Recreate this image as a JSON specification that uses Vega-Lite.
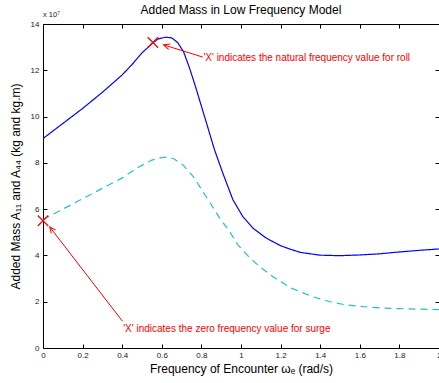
{
  "$schema": "https://vega.github.io/schema/vega-lite/v6.json",
  "width": 396,
  "height": 324,
  "autosize": {"type": "none"},
  "padding": {"left": 43, "top": 24, "right": 0, "bottom": 35},
  "background": "white",
  "config": {
    "view": {"stroke": null},
    "font": "Liberation Sans",
    "axis": {"grid": false, "domainColor": "black", "tickColor": "black", "labelColor": "#222", "labelFont": "Liberation Sans", "labelFontSize": 8, "titleFont": "Liberation Sans", "titleFontWeight": "normal", "titleColor": "black", "titleFontSize": 12}
  },
  "title": {"text": "Added Mass in Low Frequency Model", "fontSize": 12, "fontWeight": "normal", "font": "Liberation Sans", "color": "black", "offset": -6},
  "datasets": {
    "curves": [
      {"s": "A44", "f": 0, "m": 9.05}, {"s": "A44", "f": 0.1, "m": 9.7}, {"s": "A44", "f": 0.2, "m": 10.35}, {"s": "A44", "f": 0.3, "m": 11.05}, {"s": "A44", "f": 0.4, "m": 11.8}, {"s": "A44", "f": 0.45, "m": 12.25}, {"s": "A44", "f": 0.5, "m": 12.75}, {"s": "A44", "f": 0.55, "m": 13.15}, {"s": "A44", "f": 0.58, "m": 13.35}, {"s": "A44", "f": 0.62, "m": 13.43}, {"s": "A44", "f": 0.65, "m": 13.4}, {"s": "A44", "f": 0.68, "m": 13.2}, {"s": "A44", "f": 0.71, "m": 12.8}, {"s": "A44", "f": 0.74, "m": 12.1}, {"s": "A44", "f": 0.77, "m": 11.3}, {"s": "A44", "f": 0.8, "m": 10.45}, {"s": "A44", "f": 0.83, "m": 9.6}, {"s": "A44", "f": 0.866, "m": 8.57}, {"s": "A44", "f": 0.908, "m": 7.56}, {"s": "A44", "f": 0.959, "m": 6.41}, {"s": "A44", "f": 1.009, "m": 5.68}, {"s": "A44", "f": 1.06, "m": 5.18}, {"s": "A44", "f": 1.127, "m": 4.75}, {"s": "A44", "f": 1.2, "m": 4.42}, {"s": "A44", "f": 1.245, "m": 4.28}, {"s": "A44", "f": 1.3, "m": 4.13}, {"s": "A44", "f": 1.4, "m": 4.01}, {"s": "A44", "f": 1.5, "m": 3.99}, {"s": "A44", "f": 1.6, "m": 4.02}, {"s": "A44", "f": 1.7, "m": 4.07}, {"s": "A44", "f": 1.8, "m": 4.15}, {"s": "A44", "f": 1.9, "m": 4.22}, {"s": "A44", "f": 2.0, "m": 4.28},
      {"s": "A11", "f": 0, "m": 5.55}, {"s": "A11", "f": 0.1, "m": 6.0}, {"s": "A11", "f": 0.2, "m": 6.45}, {"s": "A11", "f": 0.3, "m": 6.9}, {"s": "A11", "f": 0.4, "m": 7.35}, {"s": "A11", "f": 0.48, "m": 7.8}, {"s": "A11", "f": 0.55, "m": 8.12}, {"s": "A11", "f": 0.6, "m": 8.23}, {"s": "A11", "f": 0.63, "m": 8.25}, {"s": "A11", "f": 0.66, "m": 8.18}, {"s": "A11", "f": 0.706, "m": 7.92}, {"s": "A11", "f": 0.765, "m": 7.34}, {"s": "A11", "f": 0.807, "m": 6.76}, {"s": "A11", "f": 0.85, "m": 6.19}, {"s": "A11", "f": 0.892, "m": 5.62}, {"s": "A11", "f": 0.942, "m": 5.04}, {"s": "A11", "f": 0.984, "m": 4.46}, {"s": "A11", "f": 1.034, "m": 3.99}, {"s": "A11", "f": 1.093, "m": 3.52}, {"s": "A11", "f": 1.16, "m": 3.09}, {"s": "A11", "f": 1.25, "m": 2.6}, {"s": "A11", "f": 1.36, "m": 2.22}, {"s": "A11", "f": 1.45, "m": 2.0}, {"s": "A11", "f": 1.53, "m": 1.86}, {"s": "A11", "f": 1.6, "m": 1.8}, {"s": "A11", "f": 1.7, "m": 1.73}, {"s": "A11", "f": 1.8, "m": 1.7}, {"s": "A11", "f": 1.9, "m": 1.68}, {"s": "A11", "f": 2.0, "m": 1.66}
    ],
    "marks": [{"f": 0.555, "m": 13.2}, {"f": 0, "m": 5.5}],
    "arrows": [
      {"id": "roll", "f": 0.807, "m": 12.57, "f2": 0.609, "m2": 13.1},
      {"id": "surge", "f": 0.402, "m": 1.15, "f2": 0.034, "m2": 5.23}
    ],
    "notes": [
      {"f": 0.81, "m": 12.53, "t": "'X' indicates the natural frequency value for roll"},
      {"f": 0.405, "m": 0.82, "t": "'X' indicates the zero frequency value for surge"}
    ],
    "exp": [{"f": 0, "m": 14.4, "t": "x 10⁷"}]
  },
  "resolve": {"axis": {"x": "independent", "y": "independent"}},
  "layer": [
    {
      "data": {"name": "curves"},
      "mark": {"type": "line", "strokeWidth": 1.2, "clip": true},
      "encoding": {
        "x": {"field": "f", "type": "quantitative", "scale": {"domain": [0, 2], "nice": false},
          "axis": {"orient": "bottom", "values": [0, 0.2, 0.4, 0.6, 0.8, 1, 1.2, 1.4, 1.6, 1.8, 2], "format": "~g", "tickSize": -4, "labelPadding": 7, "labelOverlap": false, "labelFlush": false, "labelBound": false, "title": "Frequency of Encounter ωₑ (rad/s)", "titlePadding": 4}},
        "y": {"field": "m", "type": "quantitative", "scale": {"domain": [0, 14], "nice": false},
          "axis": {"orient": "left", "values": [0, 2, 4, 6, 8, 10, 12, 14], "tickSize": -4, "labelPadding": 8, "labelOverlap": false, "title": "Added Mass A₁₁ and A₄₄ (kg and kg.m)", "titlePadding": 8}},
        "color": {"field": "s", "type": "nominal", "scale": {"domain": ["A44", "A11"], "range": ["#0000ff", "#1fc4c4"]}, "legend": null},
        "strokeDash": {"field": "s", "type": "nominal", "scale": {"domain": ["A44", "A11"], "range": [[1, 0], [7, 5]]}, "legend": null}
      }
    },
    {
      "data": {"name": "marks"},
      "mark": {"type": "point", "shape": "M-1,-1L1,1M1,-1L-1,1", "filled": false, "size": 110, "stroke": "#ff0000", "strokeWidth": 1.2, "opacity": 1},
      "encoding": {
        "x": {"field": "f", "type": "quantitative", "axis": {"orient": "top", "values": [0, 0.2, 0.4, 0.6, 0.8, 1, 1.2, 1.4, 1.6, 1.8, 2], "labels": false, "tickSize": -4, "title": null}},
        "y": {"field": "m", "type": "quantitative", "axis": {"orient": "right", "values": [0, 2, 4, 6, 8, 10, 12, 14], "labels": false, "tickSize": -4, "title": null}}
      }
    },
    {
      "data": {"name": "arrows"},
      "mark": {"type": "rule", "color": "#ff0000", "strokeWidth": 1},
      "encoding": {
        "x": {"field": "f", "type": "quantitative", "axis": null},
        "y": {"field": "m", "type": "quantitative", "axis": null},
        "x2": {"field": "f2"},
        "y2": {"field": "m2"}
      }
    },
    {
      "data": {"name": "arrows"},
      "transform": [{"filter": "datum.id == 'roll'"}],
      "mark": {"type": "point", "shape": "M-0.45,1L0,0L0.45,1", "filled": false, "size": 150, "stroke": "#ff0000", "strokeWidth": 1, "angle": 287, "opacity": 1},
      "encoding": {
        "x": {"field": "f2", "type": "quantitative", "axis": null},
        "y": {"field": "m2", "type": "quantitative", "axis": null}
      }
    },
    {
      "data": {"name": "arrows"},
      "transform": [{"filter": "datum.id == 'surge'"}],
      "mark": {"type": "point", "shape": "M-0.45,1L0,0L0.45,1", "filled": false, "size": 150, "stroke": "#ff0000", "strokeWidth": 1, "angle": 322.5, "opacity": 1},
      "encoding": {
        "x": {"field": "f2", "type": "quantitative", "axis": null},
        "y": {"field": "m2", "type": "quantitative", "axis": null}
      }
    },
    {
      "data": {"name": "notes"},
      "mark": {"type": "text", "align": "left", "baseline": "middle", "fontSize": 10, "color": "#ff0000", "font": "Liberation Sans"},
      "encoding": {
        "x": {"field": "f", "type": "quantitative", "axis": null},
        "y": {"field": "m", "type": "quantitative", "axis": null},
        "text": {"field": "t"}
      }
    },
    {
      "data": {"name": "exp"},
      "mark": {"type": "text", "align": "left", "baseline": "middle", "fontSize": 7.5, "color": "#222", "font": "Liberation Sans"},
      "encoding": {
        "x": {"field": "f", "type": "quantitative", "axis": null},
        "y": {"field": "m", "type": "quantitative", "axis": null},
        "text": {"field": "t"}
      }
    }
  ]
}
